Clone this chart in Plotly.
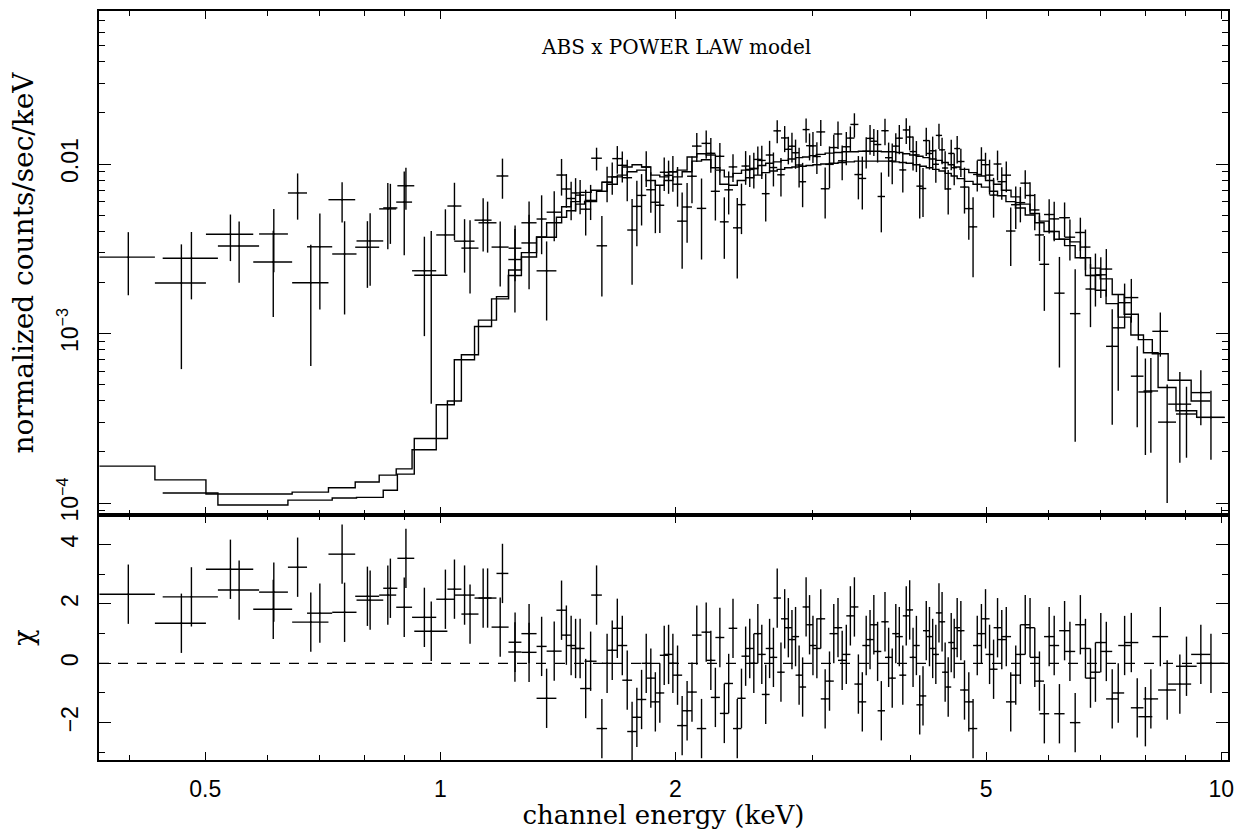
import plotly.graph_objects as go
from plotly.subplots import make_subplots

# ---------------- data set 1 (upper model curve) ----------------
edges1 = [0.366, 0.431, 0.501, 0.576, 0.646, 0.719, 0.778, 0.835, 0.878, 0.920,
          0.988, 1.042, 1.106, 1.163, 1.223, 1.270, 1.328, 1.368, 1.430, 1.470, 1.510,
          1.56, 1.61, 1.66, 1.71, 1.76, 1.81, 1.86, 1.91, 1.96, 2.01,
          2.07, 2.13, 2.19, 2.25, 2.31, 2.37, 2.43, 2.49, 2.55, 2.61, 2.67, 2.73, 2.79, 2.85, 2.91, 2.97, 3.03,
          3.11, 3.19, 3.27, 3.35, 3.43, 3.51, 3.59, 3.67, 3.75, 3.83, 3.91, 3.99, 4.07, 4.15, 4.23, 4.31,
          4.39, 4.47, 4.55, 4.63,
          4.75, 4.87, 4.99, 5.11, 5.23,
          5.38, 5.53, 5.69, 5.85, 6.02, 6.20, 6.40, 6.60, 6.80, 7.00, 7.25, 7.51, 7.83, 8.16, 8.55, 9.15, 9.68]
model1 = [1.65e-4, 1.37e-4, 1.13e-4, 1.13e-4, 1.16e-4, 1.23e-4, 1.33e-4, 1.46e-4, 1.59e-4,
          2.06e-4, 3.8e-4, 7.0e-4, 1.1e-3, 1.6e-3, 2.37e-3, 3.0e-3, 3.71e-3, 4.5e-3, 5.6e-3, 6.0e-3,
          6.8e-3, 7.0e-3, 7.8e-3, 8.4e-3, 9.6e-3, 9.9e-3, 9.6e-3, 8.6e-3, 8.4e-3, 9.0e-3,
          9.2e-3, 1.10e-2, 1.15e-2, 1.13e-2, 9.2e-3, 8.4e-3, 8.8e-3, 9.2e-3, 9.4e-3, 9.8e-3, 1.01e-2,
          1.03e-2, 1.05e-2, 1.07e-2, 1.09e-2, 1.10e-2, 1.12e-2,
          1.14e-2, 1.16e-2, 1.17e-2, 1.18e-2, 1.18e-2, 1.19e-2, 1.19e-2, 1.19e-2, 1.18e-2, 1.18e-2,
          1.17e-2, 1.15e-2, 1.13e-2, 1.11e-2, 1.09e-2, 1.07e-2, 1.05e-2, 1.02e-2, 9.9e-3, 9.6e-3,
          9.3e-3, 8.9e-3, 8.5e-3, 8.0e-3, 7.6e-3,
          7.0e-3, 6.4e-3, 5.8e-3, 5.1e-3, 4.6e-3, 4.0e-3, 3.6e-3, 3.47e-3, 2.8e-3, 2.43e-3, 2.1e-3,
          1.7e-3, 1.3e-3, 9.2e-4, 7.6e-4, 5.3e-4, 4.0e-4]
chi1 = [2.33, 1.35, 3.17, 1.82, 1.39, 3.68, 2.26, 2.30, 1.89,
        1.55, 2.16, 2.3, 2.2, 1.22, 0.71, 1.0, 0.57, 0.41, 0.95, 0.5,
        -0.85, 2.3, 0.0, 1.18, -0.57, -1.82, 0.0, -1.3, 0.27, 0.0,
        -2.1, -0.97, -2.2, 0.1, 0.87, -0.68, -2.2, 0.24, 0.0, 0.3, 0.5, 2.2, 1.5, 0.8, -0.4, 1.9, 0.6,
        1.5, -0.6, 1.2, 0.3, 1.9, -1.3, 0.8, 0.4, 1.4, -0.5, 0.9, 1.6, 0.2, -1.4, 1.1, 0.5, 1.7, -0.3,
        0.7, 1.2,
        -0.9, -2.2, 1.0, 0.3, 1.2,
        0.9, -0.4, 1.3, 0.2, -1.7, 0.6, 1.1, -2.0, 0.5, -0.3, 0.4, -1.0, 0.7, -1.8, 0.9, -0.7, 0.3]
err1 = [1.14e-3, 1.37e-3, 1.18e-3, 1.39e-3, 1.35e-3, 1.64e-3, 1.37e-3, 2.30e-3, 3.07e-3,
        1.38e-3, 1.59e-3, 1.22e-3, 1.62e-3, 1.34e-3, 1.15e-3, 1.5e-3, 1.8e-3, 1.7e-3, 1.6e-3, 1.5e-3,
        1.63e-3, 1.66e-3, 1.85e-3, 2.0e-3, 2.28e-3, 2.35e-3, 2.28e-3, 2.04e-3, 2.0e-3, 2.14e-3,
        2.19e-3, 2.61e-3, 2.74e-3, 2.69e-3, 2.19e-3, 2.0e-3, 2.09e-3, 2.19e-3, 2.24e-3, 2.33e-3,
        2.4e-3, 2.45e-3, 2.5e-3, 2.54e-3, 2.59e-3, 2.61e-3, 2.66e-3,
        2.71e-3, 2.75e-3, 2.78e-3, 2.8e-3, 2.8e-3, 2.83e-3, 2.83e-3, 2.83e-3, 2.8e-3, 2.8e-3,
        2.78e-3, 2.74e-3, 2.69e-3, 2.64e-3, 2.59e-3, 2.54e-3, 2.5e-3, 2.43e-3, 2.35e-3, 2.28e-3,
        2.21e-3, 2.11e-3, 2.03e-3, 2.0e-3, 2.0e-3,
        1.77e-3, 1.62e-3, 1.47e-3, 1.29e-3, 1.2e-3, 1.24e-3, 1.11e-3, 1.08e-3, 0.87e-3, 0.76e-3,
        0.75e-3, 0.62e-3, 0.47e-3, 2.6e-4, 3.0e-4, 2.1e-4, 1.6e-4]

# ---------------- data set 2 (lower model curve) ----------------
edges2 = [0.441, 0.519, 0.586, 0.638, 0.675, 0.727, 0.781, 0.845, 0.881, 0.926,
          1.021, 1.064, 1.119, 1.180, 1.222, 1.270, 1.328, 1.408, 1.451, 1.490, 1.530,
          1.585, 1.635, 1.685, 1.735, 1.785, 1.835, 1.885, 1.935, 1.985, 2.04,
          2.10, 2.16, 2.22, 2.28, 2.34, 2.40, 2.46, 2.52, 2.58, 2.64, 2.70, 2.76, 2.82, 2.88, 2.94, 3.00, 3.07,
          3.15, 3.23, 3.31, 3.39, 3.47, 3.55, 3.63, 3.71, 3.79, 3.87, 3.95, 4.03, 4.11, 4.19, 4.27, 4.35,
          4.43, 4.51, 4.59,
          4.69, 4.81, 4.93, 5.05, 5.17, 5.30,
          5.45, 5.61, 5.77, 5.93, 6.11, 6.30, 6.50, 6.70, 6.90, 7.12, 7.38, 7.66, 7.95, 8.30, 8.75, 9.30, 10.1]
model2 = [1.145e-4, 9.73e-5, 9.73e-5, 1.04e-4, 1.04e-4, 1.07e-4, 1.08e-4, 1.19e-4, 1.48e-4,
          2.4e-4, 4.0e-4, 7.5e-4, 1.2e-3, 1.65e-3, 2.2e-3, 2.83e-3, 3.7e-3, 4.85e-3, 5.3e-3, 5.8e-3,
          6.0e-3, 6.9e-3, 7.6e-3, 8.6e-3, 9.0e-3, 9.2e-3, 8.0e-3, 7.5e-3, 8.0e-3, 8.4e-3,
          9.0e-3, 1.04e-2, 1.06e-2, 9.5e-3, 7.6e-3, 7.5e-3, 8.0e-3, 8.3e-3, 8.6e-3, 8.9e-3, 9.1e-3,
          9.3e-3, 9.5e-3, 9.6e-3, 9.7e-3, 9.8e-3, 9.9e-3,
          1.0e-2, 1.01e-2, 1.02e-2, 1.03e-2, 1.04e-2, 1.04e-2, 1.04e-2, 1.04e-2, 1.04e-2, 1.03e-2,
          1.02e-2, 1.01e-2, 9.9e-3, 9.7e-3, 9.5e-3, 9.3e-3, 9.1e-3, 8.8e-3, 8.5e-3,
          8.2e-3, 7.9e-3, 7.6e-3, 7.3e-3, 6.9e-3, 6.5e-3,
          6.0e-3, 5.5e-3, 5.0e-3, 4.5e-3, 4.0e-3, 3.6e-3, 3.3e-3, 2.8e-3, 2.2e-3, 1.8e-3, 1.5e-3,
          1.25e-3, 9.8e-4, 7.7e-4, 4.8e-4, 3.5e-4, 3.2e-4]
chi2 = [2.24, 2.47, 2.40, 3.24, 1.69, 1.72, 2.13, 2.53, 3.54,
        1.08, 2.5, 1.66, 2.2, 3.03, 0.38, 0.37, -1.18, 1.79, 0.6, 0.5,
        0.07, -2.2, 0.44, 0.6, -2.3, -1.22, -0.5, -1.0, 0.3, -0.4,
        -1.6, 0.95, 1.05, -1.15, -1.69, 1.18, -1.18, 0.5, 1.0, -1.05, 0.2, -0.3, 1.2, 0.9, -0.8, 1.3, 0.5,
        -1.2, 1.0, 0.1, 1.6, -0.7, 0.6, 1.3, -1.6, 0.2, 1.0, -0.4, 1.8, 0.6, -1.1, 0.9, 0.3, 1.4, -0.8, 0.5,
        1.1, -1.3, 0.6, 1.5, -0.2, 0.8,
        -1.3, 0.3, 1.2, -0.6, 0.9, -1.7, 0.4, 1.3, -0.5, 0.7, -1.2, 0.6, -1.5, -1.2, -0.9, -0.1, 0.0]
err2 = [1.19e-3, 1.29e-3, 1.57e-3, 2.05e-3, 1.86e-3, 1.65e-3, 1.60e-3, 2.13e-3, 2.06e-3,
        1.82e-3, 2.1e-3, 1.47e-3, 1.5e-3, 2.26e-3, 1.4e-3, 1.6e-3, 1.15e-3, 2.1e-3, 1.6e-3, 1.5e-3,
        1.43e-3, 1.64e-3, 1.8e-3, 2.04e-3, 2.14e-3, 2.19e-3, 1.9e-3, 1.79e-3, 1.9e-3, 2.0e-3,
        2.14e-3, 2.48e-3, 2.51e-3, 2.26e-3, 1.8e-3, 1.79e-3, 1.9e-3, 1.98e-3, 2.04e-3, 2.11e-3,
        2.16e-3, 2.21e-3, 2.26e-3, 2.28e-3, 2.3e-3, 2.33e-3, 2.35e-3,
        2.38e-3, 2.4e-3, 2.43e-3, 2.45e-3, 2.48e-3, 2.48e-3, 2.48e-3, 2.48e-3, 2.48e-3, 2.45e-3,
        2.43e-3, 2.4e-3, 2.35e-3, 2.3e-3, 2.26e-3, 2.21e-3, 2.16e-3, 2.09e-3, 2.03e-3,
        1.95e-3, 1.88e-3, 1.8e-3, 1.74e-3, 1.73e-3, 1.71e-3,
        1.52e-3, 1.39e-3, 1.27e-3, 1.14e-3, 1.15e-3, 1.1e-3, 1.0e-3, 0.88e-3, 0.74e-3, 0.6e-3,
        0.55e-3, 0.45e-3, 2.8e-4, 2.6e-4, 2.0e-4, 1.5e-4, 1.4e-4]

# ---------------- ticks / labels ----------------
x_major = [0.5, 1, 2, 5, 10]
x_major_text = ["0.5", "1", "2", "5", "10"]
x_minor = [0.4, 0.6, 0.7, 0.8, 0.9, 3, 4, 6, 7, 8, 9]
y_major = [1e-4, 1e-3, 1e-2]
y_major_text = ["10<sup>\u22124</sup>", "10<sup>\u22123</sup>", "0.01"]
y_minor = [9e-5, 2e-4, 3e-4, 4e-4, 5e-4, 6e-4, 7e-4, 8e-4, 9e-4,
           2e-3, 3e-3, 4e-3, 5e-3, 6e-3, 7e-3, 8e-3, 9e-3,
           2e-2, 3e-2, 4e-2, 5e-2, 6e-2, 7e-2]
chi_major = [-2, 0, 2, 4]
chi_major_text = ["\u22122", "0", "2", "4"]
chi_minor = [-3, -1, 1, 3]

for arr in (model1, chi1, err1):
    assert len(arr) == len(edges1) - 1, len(arr)
for arr in (model2, chi2, err2):
    assert len(arr) == len(edges2) - 1, len(arr)

fig = make_subplots(rows=2, cols=1, shared_xaxes=True, vertical_spacing=0,
                    row_heights=[0.6729, 0.3271])

ebar = dict(type="data", width=0, thickness=1.4, color="black")
for edges, model, chi, err in [(edges1, model1, chi1, err1), (edges2, model2, chi2, err2)]:
    lo = edges[:-1]
    hi = edges[1:]
    xc = [(a + b) / 2 for a, b in zip(lo, hi)]
    hw = [(b - a) / 2 for a, b in zip(lo, hi)]
    flux = [m + c * e for m, c, e in zip(model, chi, err)]
    fig.add_trace(go.Scatter(x=xc, y=flux, mode="markers",
                             marker=dict(size=2, color="black"),
                             error_x=dict(array=hw, **ebar),
                             error_y=dict(array=err, **ebar),
                             hoverinfo="skip"), row=1, col=1)
    fig.add_trace(go.Scatter(x=list(edges), y=list(model) + [model[-1]], mode="lines",
                             line=dict(shape="hv", color="black", width=1.4),
                             hoverinfo="skip"), row=1, col=1)
    fig.add_trace(go.Scatter(x=xc, y=chi, mode="markers",
                             marker=dict(size=2, color="black"),
                             error_x=dict(array=hw, **ebar),
                             error_y=dict(array=[1.0] * len(chi), **ebar),
                             hoverinfo="skip"), row=2, col=1)

fig.add_hline(y=0, line=dict(color="black", width=1.2, dash="10px,9px"), row=2, col=1)

common = dict(showline=True, linecolor="black", linewidth=1.6, mirror="ticks",
              ticks="inside", tickcolor="black", tickwidth=1.3,
              showgrid=False, zeroline=False, automargin=False)
tfont = dict(family="Liberation Sans", size=23, color="black")
title_font = dict(family="DejaVu Serif", size=27, color="black")

fig.update_xaxes(type="log", range=[-0.4371, 1.0086], tickvals=x_major, ticktext=x_major_text,
                 ticklen=8,
                 minor=dict(tickvals=x_minor, ticklen=5, ticks="inside", tickcolor="black",
                            tickwidth=1.3, showgrid=False),
                 tickfont=tfont, **common)
fig.update_xaxes(showticklabels=False, row=1, col=1)
fig.update_xaxes(ticklabelstandoff=8,
                 title=dict(text="channel energy (keV)",
                            font=dict(family="DejaVu Serif", size=26, color="black"), standoff=2),
                 row=2, col=1)

fig.update_yaxes(type="log", range=[-4.0708, -1.0973], tickvals=y_major, ticktext=y_major_text,
                 tickangle=-90, ticklen=12, ticklabelstandoff=10,
                 minor=dict(tickvals=y_minor, ticklen=6, ticks="inside", tickcolor="black",
                            tickwidth=1.3, showgrid=False),
                 tickfont=tfont,
                 title=dict(text="normalized counts/sec/keV",
                            font=dict(family="DejaVu Serif", size=28, color="black"), standoff=12),
                 row=1, col=1, **common)
fig.update_yaxes(range=[-3.26, 5.0], tickvals=chi_major, ticktext=chi_major_text,
                 tickangle=-90, ticklen=12, ticklabelstandoff=10,
                 minor=dict(tickvals=chi_minor, ticklen=6, ticks="inside", tickcolor="black",
                            tickwidth=1.3, showgrid=False),
                 tickfont=tfont,
                 title=dict(text="\u03c7", font=title_font, standoff=16),
                 row=2, col=1, **common)

fig.add_annotation(text="ABS x POWER LAW model", xref="paper", yref="paper",
                   x=0.511, y=0.952, xanchor="center", yanchor="middle", showarrow=False,
                   font=dict(family="DejaVu Serif", size=20, color="black"))

fig.update_layout(width=1238, height=830, showlegend=False,
                  paper_bgcolor="white", plot_bgcolor="white",
                  margin=dict(l=99, r=10, t=11, b=70))

fig.write_html("out.html", config={"displayModeBar": False},
               post_script="document.body.style.margin='0';document.body.style.overflow='hidden';")
